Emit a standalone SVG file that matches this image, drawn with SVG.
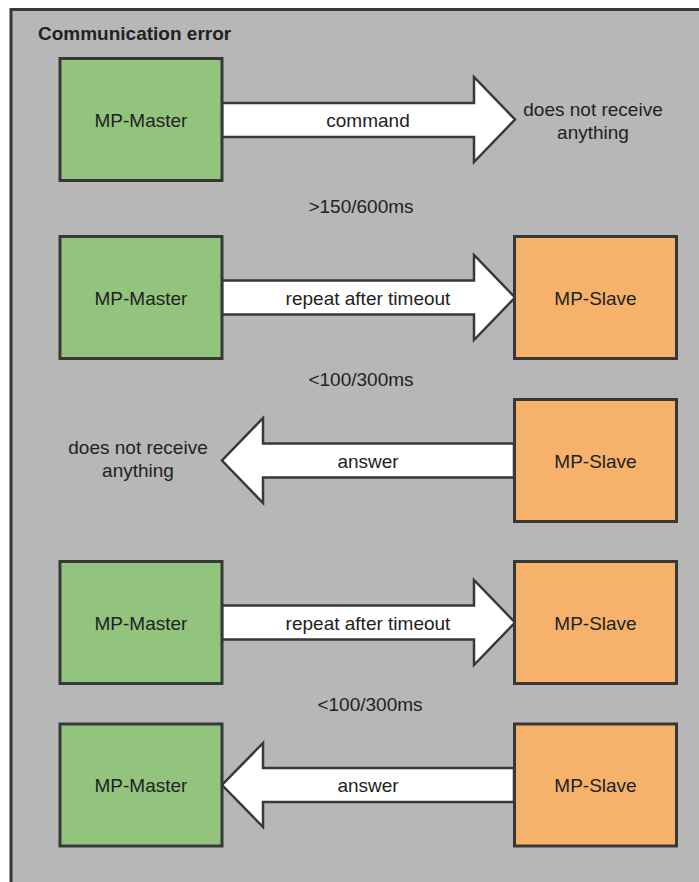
<svg xmlns="http://www.w3.org/2000/svg" width="699" height="882" viewBox="0 0 699 882">
<style>
  text { font-family: "Liberation Sans", Arial, sans-serif; font-size: 19px; fill: #222; }
  .title { font-weight: bold; }
  .c { text-anchor: middle; }
  .box { stroke: #383838; stroke-width: 3; }
  .master { fill: #93c47d; }
  .slave { fill: #f6b26b; }
  .arrow { fill: #ffffff; stroke: #383838; stroke-width: 2.5; stroke-linejoin: miter; }
</style>
<rect x="0" y="0" width="699" height="882" fill="#ffffff"/>
<rect id="frame" x="11" y="9.5" width="700" height="890" fill="#b7b7b7" stroke="#383838" stroke-width="3"/>
<text class="title" x="38" y="40">Communication error</text>

<g id="connectors">
  <g id="arrow1">
    <path class="arrow" d="M222,103 H474 V77 L515,119.5 L474,162 V137 H222 Z"/>
    <text class="c" x="368" y="127">command</text>
  </g>
  <g id="arrow2">
    <path class="arrow" d="M222,280.5 H474 V255 L515,297.5 L474,340 V314.5 H222 Z"/>
    <text class="c" x="368" y="305">repeat after timeout</text>
  </g>
  <g id="arrow3">
    <path class="arrow" d="M514,443.5 H263 V418 L222,460.5 L263,503 V477.5 H514 Z"/>
    <text class="c" x="368" y="468">answer</text>
  </g>
  <g id="arrow4">
    <path class="arrow" d="M222,605.5 H474 V580 L515,622.5 L474,665 V639.5 H222 Z"/>
    <text class="c" x="368" y="630">repeat after timeout</text>
  </g>
  <g id="arrow5">
    <path class="arrow" d="M514,768 H263 V743 L222,785 L263,827 V802 H514 Z"/>
    <text class="c" x="368" y="792">answer</text>
  </g>
</g>

<g id="labels">
  <text class="c" x="593" y="115.5">does not receive</text>
  <text class="c" x="593" y="138.5">anything</text>
  <text class="c" x="361" y="213">&gt;150/600ms</text>
  <text class="c" x="361" y="386">&lt;100/300ms</text>
  <text class="c" x="138" y="454">does not receive</text>
  <text class="c" x="138" y="477">anything</text>
  <text class="c" x="370" y="711">&lt;100/300ms</text>
</g>

<g id="master1"><rect class="box master" x="60" y="58.5" width="162" height="122"/><text class="c" x="141" y="127">MP-Master</text></g>
<g id="master2"><rect class="box master" x="60" y="236.5" width="162" height="122"/><text class="c" x="141" y="305">MP-Master</text></g>
<g id="slave2"><rect class="box slave" x="514.5" y="236.5" width="162" height="122"/><text class="c" x="595.5" y="305">MP-Slave</text></g>
<g id="slave3"><rect class="box slave" x="514.5" y="399.5" width="162" height="122"/><text class="c" x="595.5" y="468">MP-Slave</text></g>
<g id="master4"><rect class="box master" x="60" y="561.5" width="162" height="122"/><text class="c" x="141" y="630">MP-Master</text></g>
<g id="slave4"><rect class="box slave" x="514.5" y="561.5" width="162" height="122"/><text class="c" x="595.5" y="630">MP-Slave</text></g>
<g id="master5"><rect class="box master" x="60" y="724" width="162" height="122"/><text class="c" x="141" y="792">MP-Master</text></g>
<g id="slave5"><rect class="box slave" x="514.5" y="724" width="162" height="122"/><text class="c" x="595.5" y="792">MP-Slave</text></g>
</svg>
